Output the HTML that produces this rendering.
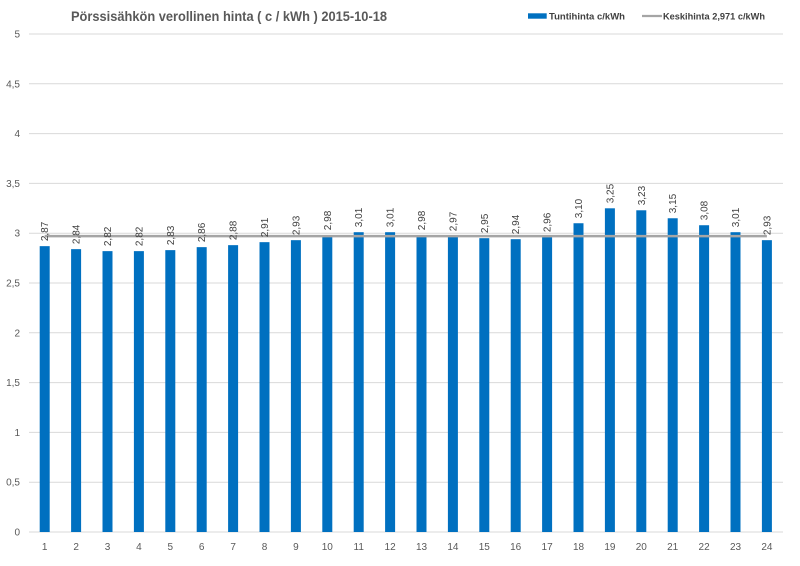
<!DOCTYPE html>
<html><head><meta charset="utf-8"><style>
html,body{margin:0;padding:0;background:#fff;}
svg{display:block;font-family:"Liberation Sans",sans-serif;}
</style></head><body>
<svg width="800" height="566" viewBox="0 0 800 566" xmlns="http://www.w3.org/2000/svg">
<rect width="800" height="566" fill="#fff"/>
<text x="71" y="21" font-size="14" font-weight="bold" fill="#595959" textLength="316" lengthAdjust="spacingAndGlyphs">Pörssisähkön verollinen hinta ( c / kWh ) 2015-10-18</text>
<!-- legend -->
<rect x="528" y="13.3" width="18.7" height="5.4" fill="#0070c0"/>
<text x="549" y="19.5" font-size="9" font-weight="bold" fill="#404040" textLength="76" lengthAdjust="spacingAndGlyphs">Tuntihinta c/kWh</text>
<line x1="642" y1="16" x2="662" y2="16" stroke="#a5a5a5" stroke-width="2.2"/>
<text x="663" y="19.5" font-size="9" font-weight="bold" fill="#404040" textLength="102" lengthAdjust="spacingAndGlyphs">Keskihinta 2,971 c/kWh</text>
<!-- gridlines -->
<g stroke="#d9d9d9" stroke-width="1">
<line x1="29" y1="34" x2="783" y2="34"/>
<line x1="29" y1="83.8" x2="783" y2="83.8"/>
<line x1="29" y1="133.6" x2="783" y2="133.6"/>
<line x1="29" y1="183.4" x2="783" y2="183.4"/>
<line x1="29" y1="233.2" x2="783" y2="233.2"/>
<line x1="29" y1="283" x2="783" y2="283"/>
<line x1="29" y1="332.8" x2="783" y2="332.8"/>
<line x1="29" y1="382.6" x2="783" y2="382.6"/>
<line x1="29" y1="432.4" x2="783" y2="432.4"/>
<line x1="29" y1="482.2" x2="783" y2="482.2"/>
<line x1="29" y1="532" x2="783" y2="532"/>
</g>
<!-- y labels -->
<g font-size="10" fill="#595959" text-anchor="end">
<text x="20" y="37.5">5</text>
<text x="20" y="87.3">4,5</text>
<text x="20" y="137.1">4</text>
<text x="20" y="186.9">3,5</text>
<text x="20" y="236.7">3</text>
<text x="20" y="286.5">2,5</text>
<text x="20" y="336.3">2</text>
<text x="20" y="386.1">1,5</text>
<text x="20" y="435.9">1</text>
<text x="20" y="485.7">0,5</text>
<text x="20" y="535.5">0</text>
</g>
<!-- bars -->
<g fill="#0070c0">
<rect x="39.7" y="246.15" width="10" height="285.85"/>
<rect x="71.1" y="249.14" width="10" height="282.86"/>
<rect x="102.5" y="251.13" width="10" height="280.87"/>
<rect x="133.9" y="251.13" width="10" height="280.87"/>
<rect x="165.3" y="250.13" width="10" height="281.87"/>
<rect x="196.7" y="247.14" width="10" height="284.86"/>
<rect x="228.1" y="245.15" width="10" height="286.85"/>
<rect x="259.5" y="242.16" width="10" height="289.84"/>
<rect x="290.9" y="240.17" width="10" height="291.83"/>
<rect x="322.3" y="235.19" width="10" height="296.81"/>
<rect x="353.7" y="232.2" width="10" height="299.8"/>
<rect x="385.1" y="232.2" width="10" height="299.8"/>
<rect x="416.5" y="235.19" width="10" height="296.81"/>
<rect x="447.9" y="236.19" width="10" height="295.81"/>
<rect x="479.3" y="238.18" width="10" height="293.82"/>
<rect x="510.7" y="239.18" width="10" height="292.82"/>
<rect x="542.1" y="237.18" width="10" height="294.82"/>
<rect x="573.5" y="223.24" width="10" height="308.76"/>
<rect x="604.9" y="208.3" width="10" height="323.7"/>
<rect x="636.3" y="210.29" width="10" height="321.71"/>
<rect x="667.7" y="218.26" width="10" height="313.74"/>
<rect x="699.1" y="225.23" width="10" height="306.77"/>
<rect x="730.5" y="232.2" width="10" height="299.8"/>
<rect x="761.9" y="240.17" width="10" height="291.83"/>
</g>
<!-- average line -->
<line x1="44.7" y1="236.1" x2="766.9" y2="236.1" stroke="#a5a5a5" stroke-width="2.5"/>
<!-- data labels -->
<g font-size="10" fill="#404040">
<text x="48.2" y="241.15" transform="rotate(-90 48.2 241.15)">2,87</text>
<text x="79.6" y="244.14" transform="rotate(-90 79.6 244.14)">2,84</text>
<text x="111" y="246.13" transform="rotate(-90 111 246.13)">2,82</text>
<text x="142.4" y="246.13" transform="rotate(-90 142.4 246.13)">2,82</text>
<text x="173.8" y="245.13" transform="rotate(-90 173.8 245.13)">2,83</text>
<text x="205.2" y="242.14" transform="rotate(-90 205.2 242.14)">2,86</text>
<text x="236.6" y="240.15" transform="rotate(-90 236.6 240.15)">2,88</text>
<text x="268" y="237.16" transform="rotate(-90 268 237.16)">2,91</text>
<text x="299.4" y="235.17" transform="rotate(-90 299.4 235.17)">2,93</text>
<text x="330.8" y="230.19" transform="rotate(-90 330.8 230.19)">2,98</text>
<text x="362.2" y="227.2" transform="rotate(-90 362.2 227.2)">3,01</text>
<text x="393.6" y="227.2" transform="rotate(-90 393.6 227.2)">3,01</text>
<text x="425" y="230.19" transform="rotate(-90 425 230.19)">2,98</text>
<text x="456.4" y="231.19" transform="rotate(-90 456.4 231.19)">2,97</text>
<text x="487.8" y="233.18" transform="rotate(-90 487.8 233.18)">2,95</text>
<text x="519.2" y="234.18" transform="rotate(-90 519.2 234.18)">2,94</text>
<text x="550.6" y="232.18" transform="rotate(-90 550.6 232.18)">2,96</text>
<text x="582" y="218.24" transform="rotate(-90 582 218.24)">3,10</text>
<text x="613.4" y="203.3" transform="rotate(-90 613.4 203.3)">3,25</text>
<text x="644.8" y="205.29" transform="rotate(-90 644.8 205.29)">3,23</text>
<text x="676.2" y="213.26" transform="rotate(-90 676.2 213.26)">3,15</text>
<text x="707.6" y="220.23" transform="rotate(-90 707.6 220.23)">3,08</text>
<text x="739" y="227.2" transform="rotate(-90 739 227.2)">3,01</text>
<text x="770.4" y="235.17" transform="rotate(-90 770.4 235.17)">2,93</text>
</g>
<!-- x labels -->
<g font-size="10" fill="#595959" text-anchor="middle">
<text x="44.7" y="550">1</text>
<text x="76.1" y="550">2</text>
<text x="107.5" y="550">3</text>
<text x="138.9" y="550">4</text>
<text x="170.3" y="550">5</text>
<text x="201.7" y="550">6</text>
<text x="233.1" y="550">7</text>
<text x="264.5" y="550">8</text>
<text x="295.9" y="550">9</text>
<text x="327.3" y="550">10</text>
<text x="358.7" y="550">11</text>
<text x="390.1" y="550">12</text>
<text x="421.5" y="550">13</text>
<text x="452.9" y="550">14</text>
<text x="484.3" y="550">15</text>
<text x="515.7" y="550">16</text>
<text x="547.1" y="550">17</text>
<text x="578.5" y="550">18</text>
<text x="609.9" y="550">19</text>
<text x="641.3" y="550">20</text>
<text x="672.7" y="550">21</text>
<text x="704.1" y="550">22</text>
<text x="735.5" y="550">23</text>
<text x="766.9" y="550">24</text>
</g>
</svg>
</body></html>
